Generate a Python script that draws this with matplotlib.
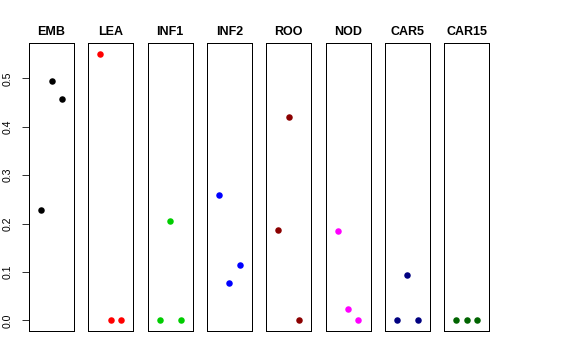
import matplotlib
matplotlib.use("Agg")
import matplotlib.pyplot as plt

plt.rcParams['font.family'] = ['Liberation Sans', 'DejaVu Sans']

tissues = ["EMB", "LEA", "INF1", "INF2", "ROO", "NOD", "CAR5", "CAR15"]
colors = ["#000000", "#FF0000", "#00CD00", "#0000FF", "#8B0000", "#FF00FF", "#000080", "#006400"]
x_pos = [1, 2, 3]
values = {
    "EMB":   [0.227, 0.4955, 0.457],
    "LEA":   [0.551, 0.0, 0.0],
    "INF1":  [0.0, 0.2056, 0.0],
    "INF2":  [0.258, 0.077, 0.1145],
    "ROO":   [0.187, 0.420, 0.0],
    "NOD":   [0.1836, 0.0234, 0.0],
    "CAR5":  [0.0, 0.0946, 0.0],
    "CAR15": [0.0, 0.0, 0.0],
}
yticks = [0.0, 0.1, 0.2, 0.3, 0.4, 0.5]

W, H = 576, 360
fig = plt.figure(figsize=(W / 72, H / 72), dpi=72)
ymax = max(max(v) for v in values.values())
pad = ymax * 0.04
for i, (t, c) in enumerate(zip(tissues, colors)):
    left = 29 + i * 59.3
    ax = fig.add_axes([left / W, (H - 331) / H, 45 / W, 288 / H])
    ax.plot(x_pos, values[t], 'o', color=c, markersize=6.5, markeredgewidth=0)
    ax.set_xlim(-0.16, 4.16)
    ax.set_ylim(-pad, ymax + pad)
    ax.set_xticks([])
    for s in ax.spines.values():
        s.set_linewidth(1.0)
        s.set_color("black")
    ax.set_title(t, fontsize=12.5, fontweight='bold', pad=8)
    if i == 0:
        ax.set_yticks(yticks)
        ax.set_yticklabels([f"{v:.1f}" for v in yticks], rotation=90, va='center', fontsize=10.5)
        ax.tick_params(axis='y', length=7, width=0.8, pad=9)
    else:
        ax.set_yticks([])

fig.savefig("out.png", dpi=72)
